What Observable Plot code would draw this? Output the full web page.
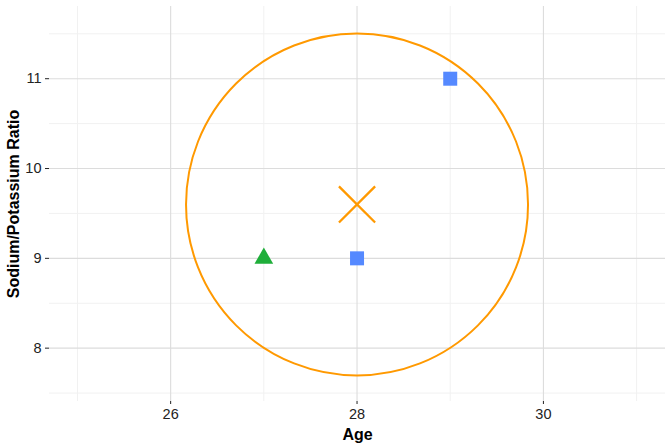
<!DOCTYPE html>
<html>
<head>
<meta charset="utf-8">
<script src="https://cdn.jsdelivr.net/npm/d3@7"></script>
<script src="https://cdn.jsdelivr.net/npm/@observablehq/plot@0.6"></script>
<style>
  html, body { margin: 0; padding: 0; background: #fff; }
  #chart svg { display: block; }
  #chart svg g[aria-label$="tick label"] { font-size: 14.5px; }
</style>
</head>
<body>
<div id="chart"></div>
<script>
// Observations
const ages = [27, 28, 29];
const ratios = [9, 9, 11];
const groups = ["A", "B", "B"];
// Cluster centre
const centerAges = [28];
const centerRatios = [9.6];
// Axis ticks
const xMajor = [26, 28, 30];
const xMinor = [25, 27, 29, 31];
const yMajor = [8, 9, 10, 11];
const yMinor = [7.5, 8.5, 9.5, 10.5, 11.5];

const points = ages.map((a, i) => ({age: a, ratio: ratios[i], group: groups[i]}));
const centers = centerAges.map((a, i) => ({age: a, ratio: centerRatios[i]}));

const orange = "#FF9900";
const font = "'Liberation Sans', Arial, Helvetica, sans-serif";

const chart = Plot.plot({
  width: 672,
  height: 447,
  marginLeft: 49,
  marginRight: 7,
  marginTop: 6,
  marginBottom: 46,
  style: {fontFamily: font, fontSize: "14px", background: "#fff", overflow: "visible"},
  x: {domain: [24.7, 31.31]},
  y: {domain: [7.406, 11.804]},
  marks: [
    Plot.gridX(xMinor, {stroke: "#f1f1f1", strokeOpacity: 1, strokeWidth: 1}),
    Plot.gridY(yMinor, {stroke: "#f1f1f1", strokeOpacity: 1, strokeWidth: 1}),
    Plot.gridX(xMajor, {stroke: "#dcdcdc", strokeOpacity: 1, strokeWidth: 1.1}),
    Plot.gridY(yMajor, {stroke: "#dcdcdc", strokeOpacity: 1, strokeWidth: 1.1}),
    Plot.axisX(xMajor, {tickSize: 3, tickPadding: 4.3, fontSize: 14.5, color: "#222", label: null, tickFormat: d3.format("d")}),
    Plot.axisY(yMajor, {tickSize: 4, tickPadding: 4, fontSize: 14.5, color: "#222", label: null, tickFormat: d3.format("d")}),
    Plot.dot(centers, {x: "age", y: "ratio", r: 171, fill: "none", stroke: orange, strokeWidth: 2}),
    Plot.dot(points.filter(d => d.group === "A"), {x: "age", y: "ratio", symbol: "triangle", fill: "#1FAE3A", r: 6.94}),
    Plot.dot(points.filter(d => d.group === "B"), {x: "age", y: "ratio", symbol: "square", fill: "#5589FF", r: 7.9}),
    Plot.dot(centers, {x: "age", y: "ratio", symbol: "times", stroke: orange, fill: "none", strokeWidth: 2.3, r: 16.5}),
    Plot.text(["Age"], {frameAnchor: "bottom", dy: 27.5, lineAnchor: "top", textAnchor: "middle", text: d => d, fontSize: 16, fontWeight: "bold", fill: "#000"}),
    Plot.text(["Sodium/Potassium Ratio"], {frameAnchor: "left", dx: -36, rotate: -90, textAnchor: "middle", lineAnchor: "middle", text: d => d, fontSize: 16, fontWeight: "bold", fill: "#000"})
  ]
});
document.getElementById("chart").appendChild(chart);
</script>
</body>
</html>
